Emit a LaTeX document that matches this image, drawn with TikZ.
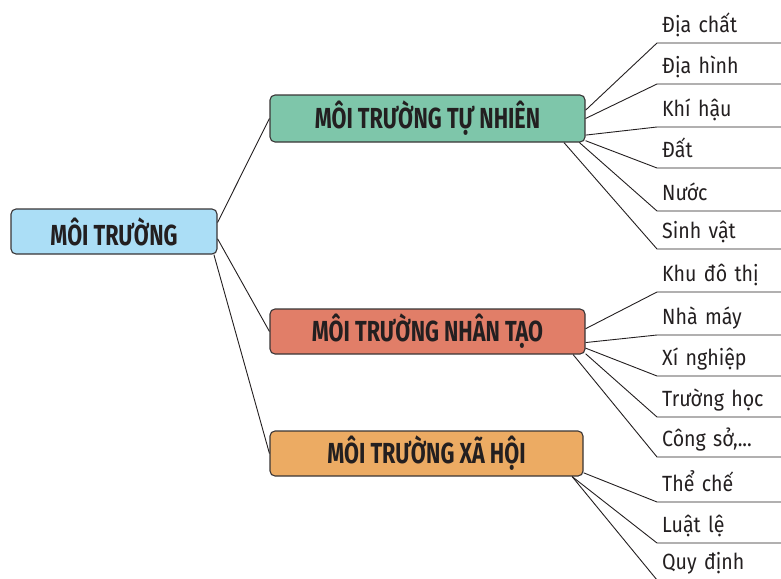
\documentclass[tikz,border=0pt]{standalone}
\usepackage{fontspec}
\newfontfamily\boxfont{Fira Sans}[FakeStretch=0.745]
\newfontfamily\leaffont{Fira Sans}[FakeStretch=0.89]
\definecolor{envblue}{RGB}{171,222,246}
\definecolor{natgreen}{RGB}{126,198,170}
\definecolor{mansalmon}{RGB}{225,126,104}
\definecolor{socorange}{RGB}{236,171,99}
\definecolor{inkgray}{RGB}{35,31,32}
\tikzset{topic/.style={rectangle,rounded corners=5pt,draw=inkgray!90,line width=1.1pt,
    minimum height=45pt,inner sep=0pt,text=inkgray,font=\boxfont\bfseries\fontsize{29}{30}\selectfont},
  leaf/.style={anchor=south west,text width=114pt,inner xsep=5pt,inner ysep=6pt,text depth=4pt,
    text=inkgray,font=\leaffont\fontsize{22}{24}\selectfont},
  link/.style={line width=.9pt,draw=inkgray}}

\begin{document}
\begin{tikzpicture}[x=1pt,y=-1pt]
  \path[use as bounding box] (0,0) rectangle (781,578);
  \clip (0,0) rectangle (781,578);
  % main boxes
  \node[topic,fill=envblue,minimum width=206pt] (env) at (114,231.5) {MÔI TRƯỜNG};
  \node[topic,fill=natgreen,minimum width=315pt,minimum height=47pt] (nat) at (427.5,118.5) {MÔI TRƯỜNG TỰ NHIÊN};
  \node[topic,fill=mansalmon,minimum width=315pt] (art) at (427.5,331.5) {MÔI TRƯỜNG NHÂN TẠO};
  \node[topic,fill=socorange,minimum width=313pt] (soc) at (426.5,453.5) {MÔI TRƯỜNG XÃ HỘI};
  \draw[link] (env.5.3) -- (nat.west);
  \draw[link] (env.356.4) -- (art.west);
  \draw[link] (env.347.2) -- (soc.west);
  % natural
  \node[leaf] (geol) at (657,43) {Địa chất};
  \node[leaf] (relief) at (657,84) {Địa hình};
  \node[leaf] (climate) at (657,127) {Khí hậu};
  \node[leaf] (soil) at (657,168) {Đất};
  \node[leaf] (water) at (657,211) {Nước};
  \node[leaf] (biota) at (657,249) {Sinh vật};
  \foreach \a/\l in {3.8/geol,0.2/relief,354.7/climate,352.6/soil,351.7/water,350.8/biota}
    \draw[link] (nat.\a) -- (\l.south west) -- (\l.south east);
  % man-made
  \node[leaf] (urban) at (657,292) {Khu đô thị};
  \node[leaf] (factory) at (657,335) {Nhà máy};
  \node[leaf] (plant) at (657,376) {Xí nghiệp};
  \node[leaf] (school) at (657,417) {Trường học};
  \node[leaf] (office) at (657,457) {Công sở,...};
  \foreach \a/\l in {1.6/urban,356.9/factory,354/plant,352.5/school,351.2/office}
    \draw[link] (art.\a) -- (\l.south west) -- (\l.south east);
  % social
  \node[leaf] (inst) at (657,502) {Thể chế};
  \node[leaf] (law) at (657,543) {Luật lệ};
  \node[leaf] (rule) at (657,580) {Quy định};
  \foreach \a/\l in {353.6/inst,351.6/law,351.2/rule}
    \draw[link] (soc.\a) -- (\l.south west) -- (\l.south east);
\end{tikzpicture}
\end{document}
